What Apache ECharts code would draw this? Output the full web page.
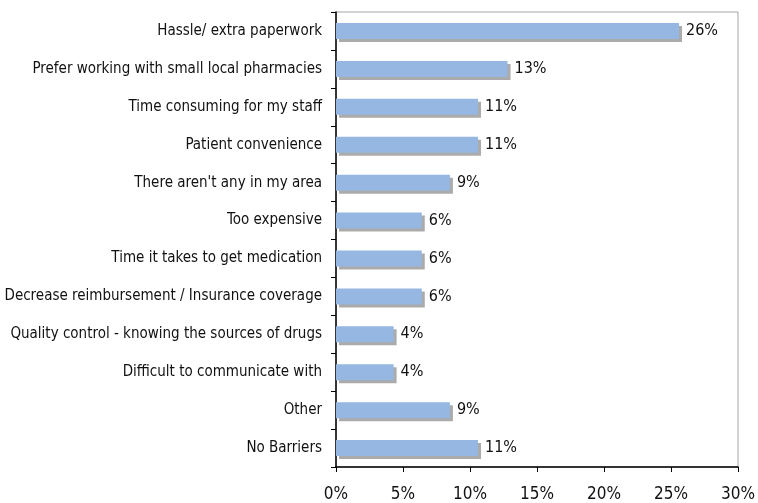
<!DOCTYPE html>
<html>
<head>
<meta charset="utf-8">
<script src="https://cdn.jsdelivr.net/npm/echarts@6/dist/echarts.min.js"></script>
<style>
  html, body { margin: 0; padding: 0; background: #fff; }
  #chart { width: 758px; height: 503px; }
</style>
</head>
<body>
<div id="chart"></div>
<script>
// Reasons given, top to bottom
const categories = [
  "Hassle/ extra paperwork",
  "Prefer working with small local pharmacies",
  "Time consuming for my staff",
  "Patient convenience",
  "There aren't any in my area",
  "Too expensive",
  "Time it takes to get medication",
  "Decrease reimbursement / Insurance coverage",
  "Quality control - knowing the sources of drugs",
  "Difficult to communicate with",
  "Other",
  "No Barriers"
];

// Share of respondents, percent
const shares = [25.6, 12.8, 10.6, 10.6, 8.5, 6.4, 6.4, 6.4, 4.3, 4.3, 8.5, 10.6];

// Value axis ticks, percent
const xTicks = [0, 5, 10, 15, 20, 25, 30];

const FONT = '"Liberation Sans Narrow", "DejaVu Sans Condensed", sans-serif';
const TEXT = '#111111';

const chart = echarts.init(document.getElementById('chart'), null, { renderer: 'canvas' });

chart.setOption({
  animation: false,
  backgroundColor: '#ffffff',
  grid: {
    left: 336, top: 12, right: 13, bottom: 35,
    show: true, borderColor: '#a6a6a6', borderWidth: 1,
    containLabel: false
  },
  xAxis: {
    type: 'value',
    min: xTicks[0],
    max: xTicks[xTicks.length - 1],
    interval: xTicks[1] - xTicks[0],
    splitLine: { show: false },
    axisLine: { show: true, lineStyle: { color: '#000', width: 1.5 } },
    axisTick: { show: true, length: 5, lineStyle: { color: '#000', width: 1 } },
    axisLabel: {
      formatter: v => v + '%',
      color: TEXT, fontFamily: FONT, fontSize: 17, margin: 19
    }
  },
  yAxis: {
    type: 'category',
    data: categories,
    inverse: true,
    axisLine: { show: true, lineStyle: { color: '#000', width: 1.5 } },
    axisTick: { show: true, length: 5, alignWithLabel: false, lineStyle: { color: '#000', width: 1 } },
    axisLabel: { color: TEXT, fontFamily: FONT, fontSize: 15, margin: 14 }
  },
  series: [{
    type: 'bar',
    data: shares,
    barWidth: 16,
    itemStyle: {
      color: '#95b7e1',
      shadowColor: '#ababab',
      shadowBlur: 0,
      shadowOffsetX: 3,
      shadowOffsetY: 3
    },
    label: {
      show: true,
      position: 'right',
      distance: 7,
      formatter: p => Math.round(p.value) + '%',
      color: TEXT, fontFamily: FONT, fontSize: 16
    }
  }]
});
</script>
</body>
</html>
